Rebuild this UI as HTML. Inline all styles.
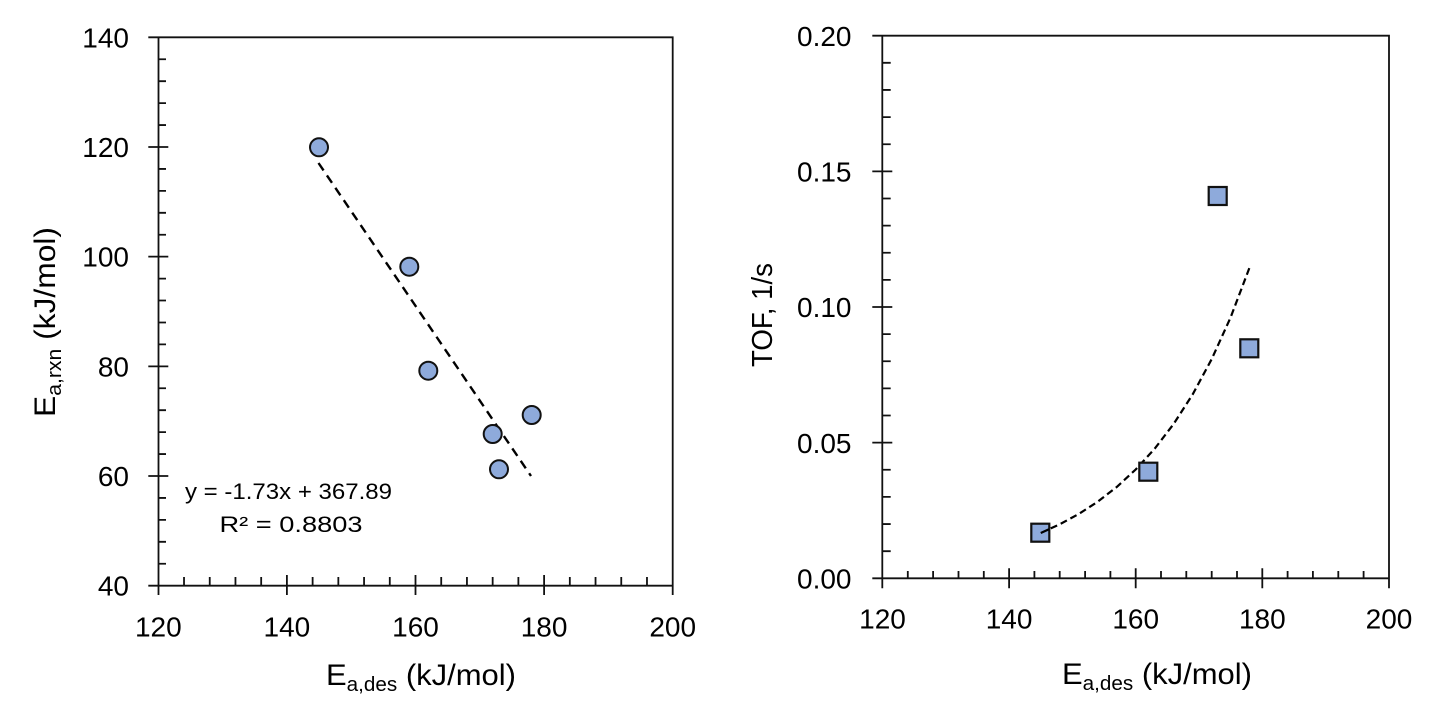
<!DOCTYPE html>
<html><head><meta charset="utf-8"><style>
html,body{margin:0;padding:0;background:#fff;}
svg{display:block;}
text{font-family:"Liberation Sans",Arial,sans-serif;fill:#000;}
</style></head><body>
<svg width="1430" height="709" viewBox="0 0 1430 709" xmlns="http://www.w3.org/2000/svg">
<rect width="1430" height="709" fill="#fff"/>
<!-- LEFT CHART -->
<g stroke="#111" stroke-width="1.8" fill="none">
<path d="M148.3 37.3H672.7V595M158.5 37.3V595M148.3 585.7H672.7"/>
<path d="M148.3 147H168.3M148.3 256.66H168.3M148.3 366.34H168.3M148.3 476.02H168.3"/>
<path d="M158.5 59.24H166M158.5 81.17H166M158.5 103.11H166M158.5 125.04H166M158.5 168.92H166M158.5 190.85H166M158.5 212.79H166M158.5 234.72H166M158.5 278.6H166M158.5 300.53H166M158.5 322.47H166M158.5 344.4H166M158.5 388.28H166M158.5 410.21H166M158.5 432.15H166M158.5 454.08H166M158.5 497.96H166M158.5 519.89H166M158.5 541.83H166M158.5 563.76H166"/>
<path d="M286.9 575V595M415.5 575V595M544.1 575V595"/>
<path d="M184.02 577V585.7M209.74 577V585.7M235.46 577V585.7M261.18 577V585.7M312.62 577V585.7M338.34 577V585.7M364.06 577V585.7M389.78 577V585.7M441.22 577V585.7M466.94 577V585.7M492.66 577V585.7M518.38 577V585.7M569.82 577V585.7M595.54 577V585.7M621.26 577V585.7M646.98 577V585.7"/>
</g>
<g font-size="28" text-anchor="end">
<text x="129" y="47.3">140</text>
<text x="129" y="157">120</text>
<text x="129" y="266.7">100</text>
<text x="129" y="376.3">80</text>
<text x="129" y="486">60</text>
<text x="129" y="595.7">40</text>
</g>
<g font-size="28" text-anchor="middle">
<text x="158.3" y="636.5">120</text>
<text x="286.9" y="636.5">140</text>
<text x="415.5" y="636.5">160</text>
<text x="544.1" y="636.5">180</text>
<text x="672.7" y="636.5">200</text>
</g>
<text x="421" y="685" font-size="30" text-anchor="middle" textLength="190" lengthAdjust="spacingAndGlyphs">E<tspan font-size="20" dy="6">a,des</tspan><tspan dy="-6"> (kJ/mol)</tspan></text>
<text transform="translate(55,322) rotate(-90)" font-size="30" text-anchor="middle" textLength="190" lengthAdjust="spacingAndGlyphs">E<tspan font-size="20" dy="6">a,rxn</tspan><tspan dy="-6"> (kJ/mol)</tspan></text>
<text x="288.5" y="499" font-size="22" text-anchor="middle" textLength="207" lengthAdjust="spacingAndGlyphs">y = -1.73x + 367.89</text>
<text x="291" y="532" font-size="22" text-anchor="middle" textLength="143" lengthAdjust="spacingAndGlyphs">R² = 0.8803</text>
<line x1="318.5" y1="163" x2="531" y2="476" stroke="#000" stroke-width="2.4" stroke-dasharray="9,6"/>
<g fill="#8eaadb" stroke="#111" stroke-width="2">
<circle cx="319" cy="147.3" r="9"/>
<circle cx="409.3" cy="266.7" r="9"/>
<circle cx="428.3" cy="370.7" r="9"/>
<circle cx="531.7" cy="415" r="9"/>
<circle cx="492.7" cy="434" r="9"/>
<circle cx="499" cy="469.3" r="9"/>
</g>
<!-- RIGHT CHART -->
<g stroke="#111" stroke-width="1.8" fill="none">
<path d="M872.3 35.7H1389V588.3M882.3 35.7V588.3M872.3 578.3H1389"/>
<path d="M872.3 171.35H892.3M872.3 307H892.3M872.3 442.65H892.3"/>
<path d="M882.3 62.83H890.7M882.3 89.96H890.7M882.3 117.09H890.7M882.3 144.22H890.7M882.3 198.48H890.7M882.3 225.61H890.7M882.3 252.74H890.7M882.3 279.87H890.7M882.3 334.13H890.7M882.3 361.26H890.7M882.3 388.39H890.7M882.3 415.52H890.7M882.3 469.78H890.7M882.3 496.91H890.7M882.3 524.04H890.7M882.3 551.17H890.7"/>
<path d="M1009.1 568.3V588.3M1135.7 568.3V588.3M1262.3 568.3V588.3"/>
<path d="M907.8 571V578.3M933.1 571V578.3M958.5 571V578.3M983.8 571V578.3M1034.4 571V578.3M1059.7 571V578.3M1085.1 571V578.3M1110.4 571V578.3M1161 571V578.3M1186.3 571V578.3M1211.7 571V578.3M1237 571V578.3M1287.6 571V578.3M1312.9 571V578.3M1338.3 571V578.3M1363.6 571V578.3"/>
</g>
<g font-size="28" text-anchor="end">
<text x="851.5" y="45.8">0.20</text>
<text x="851.5" y="181.5">0.15</text>
<text x="851.5" y="317.1">0.10</text>
<text x="851.5" y="452.8">0.05</text>
<text x="851.5" y="588.4">0.00</text>
</g>
<g font-size="28" text-anchor="middle">
<text x="882.5" y="628.5">120</text>
<text x="1009.1" y="628.5">140</text>
<text x="1135.7" y="628.5">160</text>
<text x="1262.3" y="628.5">180</text>
<text x="1389" y="628.5">200</text>
</g>
<text x="1157" y="684" font-size="30" text-anchor="middle" textLength="190" lengthAdjust="spacingAndGlyphs">E<tspan font-size="20" dy="6">a,des</tspan><tspan dy="-6"> (kJ/mol)</tspan></text>
<text transform="translate(772,315) rotate(-90)" font-size="29" text-anchor="middle" textLength="104" lengthAdjust="spacingAndGlyphs">TOF, 1/s</text>
<polyline points="1040.75,533 1059.74,524.3 1078.73,514 1097.72,501.7 1116.71,487 1135.7,469.5 1154.69,448.7 1173.68,423.9 1192.67,394.4 1211.66,359.2 1230.65,317.3 1249.64,267.3" fill="none" stroke="#000" stroke-width="2.2" stroke-dasharray="7,4"/>
<g fill="#8eaadb" stroke="#111" stroke-width="2.2">
<rect x="1208.7" y="187" width="18" height="18"/>
<rect x="1240.3" y="339.3" width="18" height="18"/>
<rect x="1139.3" y="462.7" width="18" height="18"/>
<rect x="1031.3" y="523.7" width="18" height="18"/>
</g>
<polyline points="1040.75,533 1049,529.2" fill="none" stroke="#000" stroke-width="2.2"/>
</svg>
</body></html>
